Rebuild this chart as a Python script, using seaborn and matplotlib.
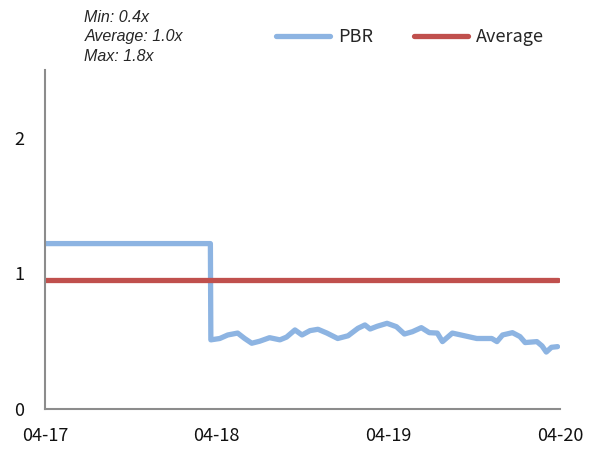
import matplotlib
matplotlib.use("Agg")
import matplotlib.pyplot as plt
import seaborn as sns
import pandas as pd

# ---- data ----
pbr_dates = ["2017-04-01", "2018-03-19", "2018-03-20", "2018-04-08", "2018-04-25", "2018-05-16",
             "2018-05-31", "2018-06-15", "2018-07-02", "2018-07-23", "2018-08-14", "2018-08-28",
             "2018-09-15", "2018-09-30", "2018-10-17", "2018-11-03", "2018-11-22", "2018-12-15",
             "2019-01-06", "2019-01-27", "2019-02-11", "2019-02-22", "2019-03-09", "2019-03-30",
             "2019-04-19", "2019-05-06", "2019-05-23", "2019-06-11", "2019-06-28", "2019-07-15",
             "2019-07-26", "2019-08-16", "2019-09-11", "2019-10-07", "2019-11-08", "2019-11-19",
             "2019-12-01", "2019-12-22", "2020-01-07", "2020-01-18", "2020-02-12", "2020-02-23",
             "2020-03-03", "2020-03-14", "2020-03-27"]
pbr_values = [1.22, 1.22, 0.51, 0.52, 0.546, 0.56,
              0.52, 0.485, 0.50, 0.526, 0.51, 0.53,
              0.583, 0.546, 0.578, 0.588, 0.56, 0.52,
              0.54, 0.595, 0.62, 0.59, 0.61, 0.632,
              0.607, 0.553, 0.57, 0.60, 0.563, 0.56,
              0.497, 0.56, 0.54, 0.52, 0.52, 0.497,
              0.546, 0.563, 0.534, 0.49, 0.497, 0.465,
              0.42, 0.455, 0.46]
avg_dates = ["2017-04-01", "2020-03-27"]
avg_values = [0.955, 0.955]
x_ticks = ["2017-04-01", "2018-04-01", "2019-04-01", "2020-04-01"]
x_tick_labels = ["04-17", "04-18", "04-19", "04-20"]
y_ticks = [0, 1, 2]
stats_text = ["Min: 0.4x", "Average: 1.0x", "Max: 1.8x"]

pbr_df = pd.DataFrame({"date": pd.to_datetime(pbr_dates), "value": pbr_values})
avg_df = pd.DataFrame({"date": pd.to_datetime(avg_dates), "value": avg_values})

sns.set_style("white")
plt.rcParams["font.family"] = ["Noto Sans CJK KR", "DejaVu Sans"]

fig = plt.figure(figsize=(5.9, 4.5), dpi=100)
ax = fig.add_axes([0.0763, 0.0911, 0.8727, 0.7533])

blue = "#8DB4E2"
red = "#C0504D"
sns.lineplot(data=pbr_df, x="date", y="value", ax=ax, color=blue, linewidth=3.8,
             estimator=None, sort=False, label="PBR", solid_capstyle="round")
sns.lineplot(data=avg_df, x="date", y="value", ax=ax, color=red, linewidth=3.8,
             estimator=None, sort=False, label="Average", solid_capstyle="round")

ax.set_xlim(pd.Timestamp(x_ticks[0]), pd.Timestamp(x_ticks[-1]))
ax.set_ylim(0, 2.5)
ax.set_xticks(pd.to_datetime(x_ticks))
ax.set_xticklabels(x_tick_labels)
ax.set_yticks(y_ticks)
ax.set_yticklabels([str(v) for v in y_ticks])
ax.set_xlabel("")
ax.set_ylabel("")

for s in ["top", "right"]:
    ax.spines[s].set_visible(False)
for s in ["left", "bottom"]:
    ax.spines[s].set_color("#8c8c8c")
    ax.spines[s].set_linewidth(1.5)
ax.tick_params(axis="both", direction="in", length=5, width=1.5, color="#8c8c8c",
               labelsize=13, labelcolor="#111111")
ax.tick_params(axis="x", pad=13)
ax.tick_params(axis="y", pad=15)
ax.grid(False)

ax.get_legend().remove()
handles, labels = ax.get_legend_handles_labels()
fig.legend(handles, labels, loc="center left", bbox_to_anchor=(0.44, 0.918), ncol=2,
           frameon=False, fontsize=13, handlelength=3.0, columnspacing=2.25,
           handletextpad=0.45)

for i, t in enumerate(stats_text):
    fig.text(0.143, 0.962 - i * 0.044, t, fontsize=11.5, style="italic",
             family=["Liberation Sans", "DejaVu Sans"], va="center", ha="left")

fig.savefig("out.png", dpi=100)
